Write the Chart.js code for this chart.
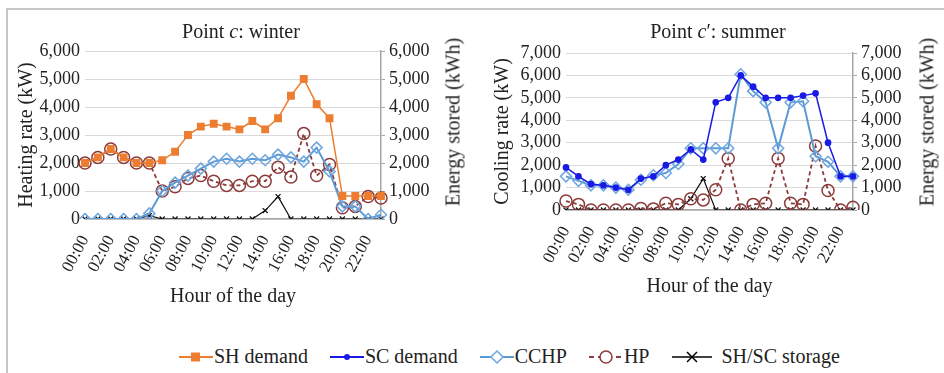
<!DOCTYPE html>
<html>
<head>
<meta charset="utf-8">
<script src="https://cdn.jsdelivr.net/npm/chart.js@4.4.1/dist/chart.umd.min.js"></script>
<style>
  body { margin: 0; background: #fff; font-family: "Liberation Serif", "Times New Roman", "DejaVu Serif", serif; color: #222; }
  #wrap { position: relative; width: 944px; height: 373px; overflow: hidden; }
  #frame { position: absolute; left: 6px; top: 8px; width: 960px; height: 400px; border-top: 2px solid #c8c8c8; border-left: 2px solid #c8c8c8; }
  canvas { position: absolute; top: 0; }
  .title { position: absolute; top: 20px; font-size: 20px; white-space: nowrap; transform: translateX(-50%); }
  .ytitle { position: absolute; font-size: 20px; white-space: nowrap; transform: translate(-50%, -50%) rotate(-90deg); }
  #legend { position: absolute; left: 179px; top: 345px; display: flex; align-items: center; font-size: 20px; white-space: nowrap; }
  #legend span.item { display: flex; align-items: center; margin-right: 22px; }
  #legend svg { margin-right: 1px; }
</style>
</head>
<body>
<div id="wrap">
  <div id="frame"></div>
  <canvas id="winter" width="470" height="320" style="left:0"></canvas>
  <canvas id="summer" width="474" height="320" style="left:470px"></canvas>
  <div class="title" style="left:241px">Point <i>c</i>: winter</div>
  <div class="title" style="left:718px">Point <i>c</i>′: summer</div>
  <div class="ytitle" style="left:453px; top:122px">Energy stored (kWh)</div>
  <div class="ytitle" style="left:927px; top:122px">Energy stored (kWh)</div>
  <div id="legend">
    <span class="item"><svg width="34" height="14"><line x1="0" y1="7" x2="34" y2="7" stroke="#ED7D31" stroke-width="2"/><rect x="12" y="2.5" width="9" height="9" fill="#ED7D31"/></svg>SH demand</span>
    <span class="item"><svg width="34" height="14"><line x1="0" y1="7" x2="34" y2="7" stroke="#1A1AE6" stroke-width="2"/><circle cx="17" cy="7" r="3" fill="#1A1AE6"/></svg>SC demand</span>
    <span class="item"><svg width="34" height="16"><line x1="0" y1="8" x2="34" y2="8" stroke="#5B9BD5" stroke-width="2"/><polygon points="17,2 23,8 17,14 11,8" fill="#fff" stroke="#6FA5DE" stroke-width="1.5"/></svg>CCHP</span>
    <span class="item"><svg width="34" height="16"><line x1="0" y1="8" x2="34" y2="8" stroke="#8C3B3B" stroke-width="2" stroke-dasharray="5,4"/><circle cx="17" cy="8" r="6" fill="#fff" stroke="#8C3B3B" stroke-width="1.5"/></svg>HP</span>
    <span class="item"><svg width="44" height="16"><line x1="0" y1="8" x2="40" y2="8" stroke="#000" stroke-width="1.5"/><line x1="15" y1="3" x2="25" y2="13" stroke="#000" stroke-width="1.5"/><line x1="25" y1="3" x2="15" y2="13" stroke="#000" stroke-width="1.5"/></svg>&nbsp;SH/SC storage</span>
  </div>
</div>
<script>
  var hours = ["00:00","01:00","02:00","03:00","04:00","05:00","06:00","07:00","08:00","09:00","10:00","11:00",
               "12:00","13:00","14:00","15:00","16:00","17:00","18:00","19:00","20:00","21:00","22:00","23:00"];

  // winter (kW, storage in kWh)
  var shDemand      = [2000,2200,2500,2200,2000,2000,2100,2400,3000,3300,3400,3300,3200,3500,3200,3600,4400,5000,4100,3600,820,820,820,820];
  var cchpWinter    = [0,0,0,0,0,200,1000,1300,1550,1800,2050,2150,2050,2150,2100,2300,2200,2050,2550,1700,450,450,0,150];
  var hpWinter      = [2000,2200,2500,2200,2000,2000,1000,1150,1450,1550,1350,1200,1200,1350,1350,1850,1500,3050,1550,1950,400,450,800,750];
  var storageWinter = [0,0,0,0,0,120,0,0,0,0,0,0,0,0,300,800,0,0,0,0,0,0,0,0];

  // summer
  var scDemand      = [1900,1500,1150,1100,1000,900,1400,1500,2000,2250,2700,2250,4800,5000,6000,5500,5000,5000,5000,5100,5200,3000,1500,1500];
  var cchpSummer    = [1500,1300,1100,1100,1000,900,1350,1550,1650,2050,2750,2750,2750,2750,6050,5300,4800,2750,4800,4850,2400,2150,1500,1500];
  var hpSummer      = [400,250,0,0,0,0,70,50,300,250,500,450,900,2300,0,250,300,2300,300,250,2850,870,0,120];
  var storageSummer = [0,0,0,0,0,0,0,0,0,0,500,1400,0,0,0,0,0,0,0,0,0,0,0,0];

  var serif = '"Liberation Serif", "Times New Roman", "DejaVu Serif", serif';
  var axisGray = '#a6a6a6';

  function series(label, data, opts) {
    return Object.assign({ label: label, data: data, yAxisID: 'y', borderWidth: 1.5, tension: 0, fill: false }, opts);
  }

  function shStyle(data) {
    return series('SH demand', data, { borderColor: '#ED7D31', backgroundColor: '#ED7D31', pointStyle: 'rect', pointRadius: 4.5 });
  }
  function scStyle(data) {
    return series('SC demand', data, { borderColor: '#1A1AE6', backgroundColor: '#1A1AE6', pointStyle: 'circle', pointRadius: 2.6 });
  }
  function cchpStyle(data) {
    return series('CCHP', data, { borderColor: '#5B9BD5', borderWidth: 2, pointBorderColor: '#6FA5DE', pointBackgroundColor: 'rgba(255,255,255,0)',
                                  pointBorderWidth: 1.5, pointStyle: 'rectRot', pointRadius: 5.5 });
  }
  function hpStyle(data) {
    return series('HP', data, { borderColor: '#8C3B3B', borderDash: [4, 3], borderWidth: 1.8, pointBorderColor: '#8C3B3B',
                                pointBackgroundColor: 'rgba(255,255,255,0)', pointBorderWidth: 1.5, pointStyle: 'circle', pointRadius: 6 });
  }
  function storageStyle(data) {
    return series('SH/SC storage', data, { yAxisID: 'y1', borderColor: '#111', backgroundColor: '#111', borderWidth: 1.2,
                                           pointBorderColor: '#111', pointBorderWidth: 1.3, pointStyle: 'crossRot', pointRadius: 3.5 });
  }

  function makeChart(id, datasets, cfg) {
    var fixW = function (w) { return function (s) { s.width = w; }; };
    var fmt = function (v) { return v.toLocaleString('en-US'); };
    new Chart(document.getElementById(id), {
      type: 'line',
      data: { labels: hours, datasets: datasets },
      options: {
        responsive: false,
        animation: false,
        layout: { padding: { top: cfg.top, left: 0, right: 0, bottom: 0 } },
        plugins: { legend: { display: false }, tooltip: { enabled: false } },
        scales: {
          x: {
            grid: { display: false },
            border: { display: true, color: axisGray, width: 1.5 },
            ticks: {
              autoSkip: false, minRotation: 62, maxRotation: 62, padding: 5,
              color: '#222', font: { family: serif, size: 17 },
              callback: function (v, i) { return i % 2 === 0 ? hours[i] : ''; }
            },
            title: { display: true, text: 'Hour of the day', color: '#222', font: { family: serif, size: 20 }, padding: cfg.xPad },
            afterFit: function (s) { s.height = cfg.xH; }
          },
          y: {
            min: 0, max: cfg.max,
            grid: { color: '#d9d9d9', lineWidth: 1, drawTicks: false },
            border: { display: false },
            ticks: { count: cfg.max / 1000 + 1, autoSkip: false, padding: 5, color: '#222', font: { family: serif, size: 18 }, callback: fmt },
            title: { display: true, text: cfg.yTitle, color: '#222', font: { family: serif, size: 20 }, padding: cfg.yPad },
            afterFit: fixW(cfg.yW)
          },
          y1: {
            position: 'right', min: 0, max: cfg.max,
            grid: { drawOnChartArea: false, drawTicks: true, tickLength: 4, color: axisGray },
            border: { display: true, color: axisGray, width: 1.5 },
            ticks: { count: cfg.max / 1000 + 1, autoSkip: false, padding: 4, color: '#222', font: { family: serif, size: 18 }, callback: fmt },
            afterFit: fixW(cfg.y1W)
          }
        }
      }
    });
  }

  function drawAll() {
    makeChart('winter',
      [shStyle(shDemand), cchpStyle(cchpWinter), hpStyle(hpWinter), storageStyle(storageWinter)],
      { max: 6000, top: 51, yW: 85, y1W: 89, xH: 101, xPad: 11, yPad: 15, yTitle: 'Heating rate (kW)' });

    makeChart('summer',
      [scStyle(scDemand), cchpStyle(cchpSummer), hpStyle(hpSummer), storageStyle(storageSummer)],
      { max: 7000, top: 53, yW: 96, y1W: 91, xH: 110, xPad: 21, yPad: 21, yTitle: 'Cooling rate (kW)' });
  }

  if (document.fonts && document.fonts.load) {
    document.fonts.load('18px "Liberation Serif"').then(drawAll, drawAll);
  } else {
    drawAll();
  }
</script>
</body>
</html>
